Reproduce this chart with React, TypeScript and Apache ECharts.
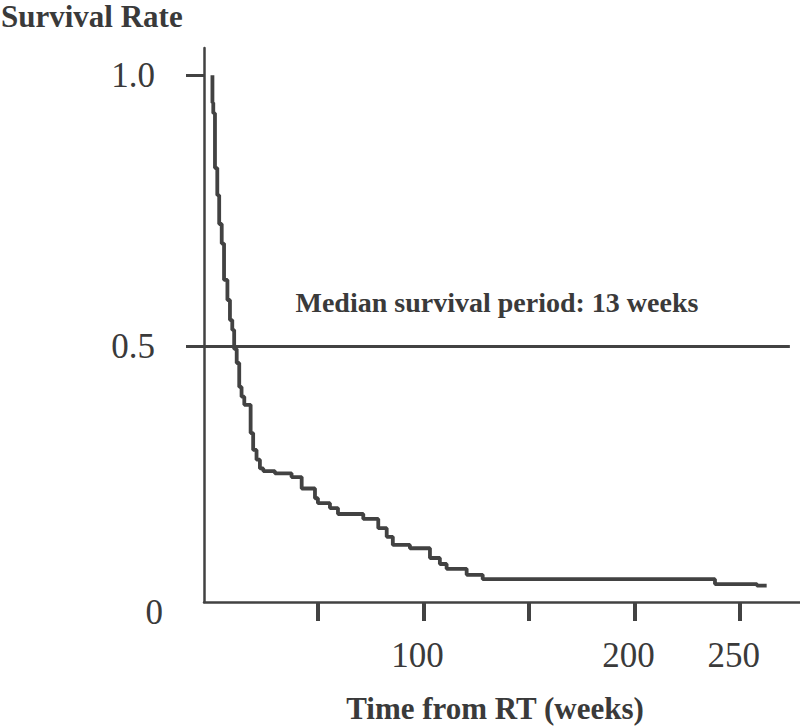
import React, { useEffect, useRef } from 'react';
import * as echarts from 'echarts';

// Kaplan–Meier estimate (time in weeks, survival proportion)
const weeks = [
  0, 0, 0.4, 1.2, 2.3, 3.2, 4.4, 5.5, 7.1, 8.3, 9.4, 10.3, 11.5, 12.7, 13.8, 15.1,
  18.1, 19.3, 20.9, 22.5, 24.1, 29.6, 37.5, 42.3, 48.6, 50.0, 55.7, 59.5, 71.5,
  78.6, 82.6, 85.5, 93.6, 103.1, 107.8, 111.0, 120.5, 128.1, 238.2, 258.1, 262.7,
];
const survival = [
  1.0, 0.949, 0.93, 0.829, 0.779, 0.726, 0.69, 0.623, 0.586, 0.549, 0.531, 0.496,
  0.47, 0.426, 0.408, 0.393, 0.341, 0.31, 0.292, 0.276, 0.271, 0.267, 0.26, 0.239,
  0.221, 0.212, 0.203, 0.192, 0.183, 0.166, 0.15, 0.135, 0.129, 0.111, 0.1, 0.091,
  0.08, 0.072, 0.063, 0.06, 0.06,
];

const xTickValues = [50, 100, 150, 200, 250];
const xLabelValues = [100, 200, 250];
const yTickValues = [0.5, 1.0];
const X_MIN = -4;
const X_MAX = 278.5;
const Y_MIN = 0.03;
const Y_MAX = 1.05;
const yLabelValues = [Y_MIN, 0.5, 1.0];
const medianRate = 0.5;
const medianLineEnd = 273.7;
const medianLabel = 'Median survival period: 13 weeks';
const yTitle = 'Survival Rate';
const xTitle = 'Time from RT (weeks)';

const INK = '#3a3a3a';
const LINE = '#424242';
const SERIF = '"Liberation Serif", "Times New Roman", serif';

export default function App() {
  const ref = useRef<HTMLDivElement>(null);

  useEffect(() => {
    if (!ref.current) return;
    const chart = echarts.init(ref.current, undefined, { renderer: 'svg' });
    const data = weeks.map((w, i) => [w, survival[i]]);

    chart.setOption({
      animation: false,
      backgroundColor: '#ffffff',
      title: {
        text: yTitle,
        left: 1,
        top: 1,
        padding: 0,
        textStyle: { fontFamily: SERIF, fontSize: 31, fontWeight: 'bold', color: INK },
      },
      grid: { left: 204, right: 0, top: 48, bottom: 126, containLabel: false, outerBoundsMode: 'none' },
      xAxis: {
        type: 'value',
        min: X_MIN,
        max: X_MAX,
        name: xTitle,
        nameLocation: 'middle',
        nameGap: 91,
        nameTextStyle: {
          fontFamily: SERIF, fontSize: 31, fontWeight: 'bold', color: INK, padding: [0, 14, 0, 0],
        },
        axisLine: { show: true, onZero: false, lineStyle: { color: LINE, width: 2.5 } },
        axisTick: {
          show: true, customValues: xTickValues, length: 19, inside: false,
          lineStyle: { color: LINE, width: 4 },
        },
        axisLabel: {
          show: true, customValues: xLabelValues, margin: 36,
          fontFamily: SERIF, fontSize: 35, color: INK, padding: [0, 12, 0, 0],
        },
        splitLine: { show: false },
      },
      yAxis: {
        type: 'value',
        min: Y_MIN,
        max: Y_MAX,
        axisLine: { show: true, onZero: false, lineStyle: { color: LINE, width: 2.5 } },
        axisTick: {
          show: true, customValues: yTickValues, length: 18, inside: false,
          lineStyle: { color: LINE, width: 3 },
        },
        axisLabel: {
          show: true, customValues: yLabelValues, margin: 49,
          fontFamily: SERIF, fontSize: 35, color: INK,
          formatter: (v: number) => {
            if (Math.abs(v - 1) < 1e-6) return '1.0';
            if (Math.abs(v - 0.5) < 1e-6) return '0.5';
            return '{z|0}';
          },
          rich: {
            z: { fontFamily: SERIF, fontSize: 35, color: INK, padding: [20, -8, 0, 0] },
          },
        },
        splitLine: { show: false },
      },
      series: [
        {
          type: 'line',
          step: 'end',
          data,
          showSymbol: false,
          symbol: 'none',
          lineStyle: { color: LINE, width: 3.8 },
          emphasis: { disabled: true },
          silent: true,
          markLine: {
            silent: true,
            symbol: ['none', 'none'],
            emphasis: { disabled: true },
            lineStyle: { color: LINE, width: 3, type: 'solid' },
            label: {
              show: true,
              position: 'insideMiddleTop',
              distance: 30,
              formatter: medianLabel,
              fontFamily: SERIF,
              fontSize: 28,
              fontWeight: 'bold',
              color: INK,
            },
            data: [[{ coord: [X_MIN, medianRate] }, { coord: [medianLineEnd, medianRate] }]],
          },
        },
      ],
    });

    return () => chart.dispose();
  }, []);

  return (
    <div
      ref={ref}
      style={{ position: 'fixed', left: 0, top: 0, width: 800, height: 728, background: '#fff' }}
    />
  );
}
